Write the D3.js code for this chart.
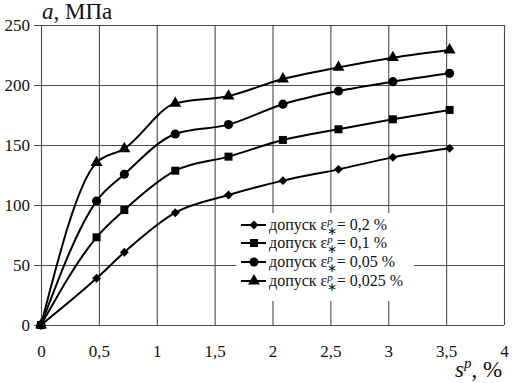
<!DOCTYPE html>
<html>
<head>
<meta charset="utf-8">
<script src="https://cdn.jsdelivr.net/npm/d3@7"></script>
</head>
<body style="margin:0;background:#fff">
<svg id="chart" width="516" height="383" font-family="Liberation Serif"></svg>
<script>
// strain s^p, % (same for all series)
const strain = [0, 0.48, 0.72, 1.16, 1.62, 2.09, 2.57, 3.04, 3.53];
// stress a, MPa for each tolerance
const tol02 = [0, 38.9, 60.6, 93.6, 108.3, 120.3, 129.7, 139.7, 147.2];
const tol01 = [0, 73.1, 95.8, 128.6, 140.3, 154.2, 163.1, 171.4, 179.2];
const tol005 = [0, 103.3, 125.6, 159.2, 167.0, 184.0, 195.0, 202.8, 209.7];
const tol0025 = [0, 135.3, 146.9, 184.7, 190.8, 205.0, 214.7, 222.8, 229.2];
const legendLabels = ['0,2', '0,1', '0,05', '0,025'];
const xTicks = [0, 0.5, 1, 1.5, 2, 2.5, 3, 3.5, 4];
const xTickLabels = ['0', '0,5', '1', '1,5', '2', '2,5', '3', '3,5', '4'];
const yTicks = [0, 50, 100, 150, 200, 250];

const series = [
    { values: tol02, marker: d3.symbolSquare, size: 40, rotate: 45 },
    { values: tol01, marker: d3.symbolSquare, size: 64, rotate: 0 },
    { values: tol005, marker: d3.symbolCircle, size: 66, rotate: 0 },
    { values: tol0025, marker: d3.symbolTriangle, size: 62, rotate: 0 }
];

const FONT = 'Liberation Serif';
const marginLeft = 41, marginTop = 25;
const plotWidth = 463, plotHeight = 300;

const svg = d3.select('#chart');

const x = d3.scaleLinear().domain([0, 4]).range([marginLeft, marginLeft + plotWidth]);
const y = d3.scaleLinear().domain([0, 250]).range([marginTop + plotHeight, marginTop]);

// y axis + horizontal grid
const yAxis = d3.axisLeft(y)
    .tickValues(yTicks)
    .tickSize(-(plotWidth + 7))
    .tickPadding(4)
    .tickFormat(d3.format('d'));
const yAxisGroup = svg.append('g')
    .attr('class', 'y-axis')
    .attr('transform', `translate(${marginLeft - 7},0)`)
    .call(yAxis);

// x axis + vertical grid
const xAxis = d3.axisBottom(x)
    .tickValues(xTicks)
    .tickSize(-plotHeight)
    .tickPadding(20)
    .tickFormat((d, i) => xTickLabels[i]);
const xAxisGroup = svg.append('g')
    .attr('class', 'x-axis')
    .attr('transform', `translate(0,${marginTop + plotHeight})`)
    .call(xAxis);

[xAxisGroup, yAxisGroup].forEach(g => {
    g.attr('font-family', FONT).attr('font-size', 17);
    g.select('.domain').remove();
    g.selectAll('line').attr('stroke', '#4a4a4a').attr('stroke-width', 1.1);
    g.selectAll('text').attr('fill', '#111');
});

// legend box hides the grid behind it
svg.append('rect')
    .attr('x', 236).attr('y', 213)
    .attr('width', 178).attr('height', 88)
    .attr('fill', '#fff');

const line = d3.line()
    .x((d, i) => x(strain[i]))
    .y(d => y(d))
    .curve(d3.curveMonotoneX);

const seriesGroup = svg.append('g').attr('class', 'series');
series.forEach(s => {
    seriesGroup.append('path')
        .datum(s.values)
        .attr('fill', 'none')
        .attr('stroke', '#000')
        .attr('stroke-width', 2)
        .attr('d', line);
    seriesGroup.selectAll(null)
        .data(s.values)
        .enter()
        .append('path')
        .attr('transform', (d, i) =>
            `translate(${x(strain[i])},${y(d)}) rotate(${s.rotate})`)
        .attr('d', d3.symbol().type(s.marker).size(s.size))
        .attr('fill', '#000');
});

// legend
const legendRows = [225, 243, 262, 281];
const legend = svg.append('g').attr('class', 'legend')
    .attr('font-family', FONT);
series.forEach((s, i) => {
    const row = legend.append('g').attr('transform', `translate(241,${legendRows[i]})`);
    row.append('line')
        .attr('x1', 0).attr('x2', 25)
        .attr('stroke', '#000').attr('stroke-width', 2);
    row.append('path')
        .attr('transform', `translate(13,0) rotate(${s.rotate})`)
        .attr('d', d3.symbol().type(s.marker).size(s.size))
        .attr('fill', '#000');
    const label = row.append('text')
        .attr('x', 28).attr('y', 5)
        .attr('font-size', 16)
        .attr('fill', '#111');
    label.append('tspan').text('допуск ε');
    label.append('tspan')
        .attr('dy', -5)
        .attr('font-size', 11).attr('font-style', 'italic')
        .text('p');
    label.append('tspan')
        .attr('dx', -6).attr('dy', 10)
        .attr('font-size', 12)
        .text('∗');
    label.append('tspan')
        .attr('dy', -5)
        .text(`= ${legendLabels[i]} %`);
});

// axis titles
const yTitle = svg.append('text')
    .attr('x', 42).attr('y', 19)
    .attr('font-family', FONT)
    .attr('font-size', 23)
    .attr('fill', '#111');
yTitle.append('tspan').attr('font-style', 'italic').text('a');
yTitle.append('tspan').text(', МПа');

const xTitle = svg.append('text')
    .attr('x', 455).attr('y', 377)
    .attr('font-family', FONT)
    .attr('font-size', 23)
    .attr('fill', '#111');
xTitle.append('tspan').attr('font-style', 'italic').text('s');
xTitle.append('tspan').attr('font-style', 'italic').attr('font-size', 15)
    .attr('dy', -9).text('p');
xTitle.append('tspan').attr('dy', 9).text(', %');
</script>
</body>
</html>
